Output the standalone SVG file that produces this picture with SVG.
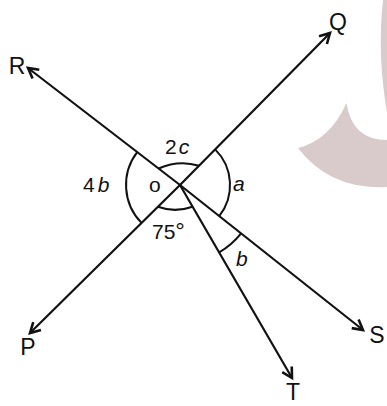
<svg xmlns="http://www.w3.org/2000/svg" width="387" height="406" viewBox="0 0 387 406">
  <style>
    .ray { stroke: #111; stroke-width: 2.2; fill: none; marker-end: url(#arr); }
    .arc { stroke: #111; stroke-width: 2; fill: none; }
    .pt { font-family: "Liberation Sans", Arial, sans-serif; font-size: 23px; fill: #111; text-anchor: middle; }
    .lb { font-family: "Liberation Sans", Arial, sans-serif; font-size: 21px; fill: #111; }
    .it { font-style: italic; }
  </style>
  <defs>
    <marker id="arr" markerUnits="userSpaceOnUse" orient="auto" refX="0" refY="0" markerWidth="20" markerHeight="20" viewBox="-14 -10 20 20" overflow="visible">
      <path d="M-10,-5.5 L0,0 L-10,5.5" stroke="#111" stroke-width="2.6" fill="none" stroke-linejoin="miter"/>
    </marker>
  </defs>
  <rect width="387" height="406" fill="#ffffff"/>
  <g id="watermark" fill="#d9cacb">
    <path d="M383,0 Q377,55 387,112 L387,0 Z"/>
    <path d="M346.5,103 Q352,140 387,140 L387,187 Q330,190 298,148 Q330,140 346.5,103 Z"/>
  </g>
  <g id="connectors">
    <line class="ray" x1="180" y1="185" x2="28" y2="68"/>
    <line class="ray" x1="180" y1="185" x2="330" y2="33"/>
    <line class="ray" x1="180" y1="185" x2="30" y2="333"/>
    <line class="ray" x1="180" y1="185" x2="363" y2="330"/>
    <line class="ray" x1="180" y1="185" x2="292" y2="378"/>
  </g>
  <g id="angles">
    <path class="arc" d="M137.2,152.1 A54,54 0 0 0 141.6,222.9"/>
    <path class="arc" d="M215.1,149.4 A50,50 0 0 1 219.2,216.1"/>
    <path class="arc" d="M158.6,168.5 Q179,159.5 199,165.8"/>
    <path class="arc" d="M157.9,206.8 Q175,213 192.5,206.7"/>
    <path class="arc" d="M241.1,233.4 A78,78 0 0 1 218.8,252.6"/>
  </g>
  <g id="node-R"><text class="pt" x="17" y="74">R</text></g>
  <g id="node-Q"><text class="pt" x="338" y="30">Q</text></g>
  <g id="node-P"><text class="pt" x="28" y="355">P</text></g>
  <g id="node-S"><text class="pt" x="377" y="343">S</text></g>
  <g id="node-T"><text class="pt" x="293" y="400">T</text></g>
  <g id="node-O"><text class="lb" x="149" y="192" font-size="23">o</text></g>
  <g id="label-2c"><text class="lb" x="165" y="154">2<tspan class="it" dx="2">c</tspan></text></g>
  <g id="label-4b"><text class="lb" x="83" y="192" font-size="22">4<tspan class="it" dx="3">b</tspan></text></g>
  <g id="label-a"><text class="lb it" x="233" y="191" font-size="23">a</text></g>
  <g id="label-b"><text class="lb it" x="236" y="266" font-size="23">b</text></g>
  <g id="label-75"><text class="lb" x="152" y="239" font-size="22">75<tspan font-size="24">°</tspan></text></g>
</svg>
